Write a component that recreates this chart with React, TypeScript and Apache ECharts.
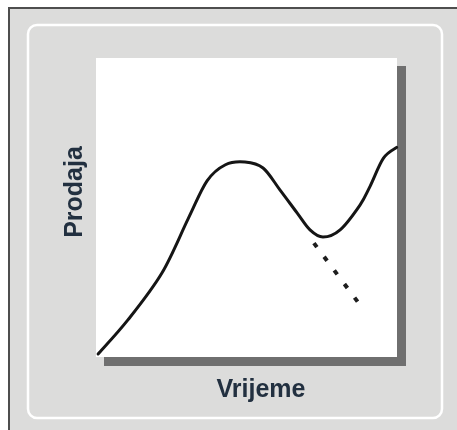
import React, { useEffect, useRef } from "react";
import * as echarts from "echarts";

// Solid sales curve (time, sales), both on 0..100
const salesTime = [0.7, 10.6, 21.9, 30.6, 36.9, 43.0, 49.5, 55.5, 61.1, 66.8, 71.1, 75.4, 81.1, 87.7, 91.0, 95.5, 99.9];
const salesValue = [1.0, 12.4, 28.1, 46.2, 58.9, 64.3, 65.2, 63.2, 55.9, 48.2, 42.5, 40.1, 42.5, 50.8, 57.0, 66.5, 70.1];

// Dashed alternative decline
const declineTime = [72.4, 87.0];
const declineValue = [38.1, 18.4];

const xLabel = "Vrijeme";
const yLabel = "Prodaja";

export default function App() {
  const ref = useRef<HTMLDivElement>(null);
  useEffect(() => {
    if (!ref.current) return;
    const chart = echarts.init(ref.current, undefined, { renderer: "svg" });
    const font = "'Liberation Sans', Arial, sans-serif";
    const salesData = salesTime.map((t, i) => [t, salesValue[i]]);
    chart.setOption({
      animation: false,
      grid: { left: 96, top: 58, width: 301, height: 299, show: false },
      xAxis: { type: "value", min: 0, max: 100, show: false },
      yAxis: { type: "value", min: 0, max: 100, show: false },
      graphic: [
        { type: "rect", z: -10, shape: { x: 9, y: 8, width: 460, height: 440 }, style: { fill: "#dcdcdb", stroke: "#4e4e4e", lineWidth: 2 } },
        { type: "rect", z: -9, shape: { x: 28, y: 25, width: 414, height: 393, r: 9 }, style: { fill: "none", stroke: "#ffffff", lineWidth: 2.5 } },
        { type: "rect", z: -8, shape: { x: 104, y: 66, width: 302, height: 300 }, style: { fill: "#6f6f6f" } },
        { type: "rect", z: -7, shape: { x: 96, y: 58, width: 301, height: 299 }, style: { fill: "#ffffff" } },
        { type: "text", z: 5, x: 261, y: 388, style: { text: xLabel, font: `bold 25px ${font}`, fill: "#223040", textAlign: "center", textVerticalAlign: "middle" } },
        { type: "text", z: 5, x: 73, y: 192, rotation: Math.PI / 2, style: { text: yLabel, font: `bold 25px ${font}`, fill: "#223040", textAlign: "center", textVerticalAlign: "middle" } },
      ],
      series: [
        {
          type: "custom",
          z: 10,
          data: salesData,
          encode: { x: 0, y: 1 },
          renderItem: (params: any, api: any) => {
            if (params.dataIndex !== 0) return null;
            const p = salesData.map((d) => api.coord(d));
            const n = p.length;
            let d = `M${p[0][0]},${p[0][1]}`;
            for (let i = 0; i < n - 1; i++) {
              const p0 = p[Math.max(0, i - 1)];
              const p1 = p[i];
              const p2 = p[i + 1];
              const p3 = p[Math.min(n - 1, i + 2)];
              const c1x = p1[0] + (p2[0] - p0[0]) / 6;
              const c1y = p1[1] + (p2[1] - p0[1]) / 6;
              const c2x = p2[0] - (p3[0] - p1[0]) / 6;
              const c2y = p2[1] - (p3[1] - p1[1]) / 6;
              d += ` C${c1x},${c1y} ${c2x},${c2y} ${p2[0]},${p2[1]}`;
            }
            return {
              type: "path",
              shape: { pathData: d },
              style: { stroke: "#151515", lineWidth: 3, fill: "none", lineCap: "round", lineJoin: "round" },
            };
          },
        },
        {
          type: "line",
          z: 10,
          data: declineTime.map((t, i) => [t, declineValue[i]]),
          showSymbol: false,
          lineStyle: { color: "#1e1e1e", width: 4, type: [5, 12] },
        },
      ],
    });
    return () => chart.dispose();
  }, []);
  return <div ref={ref} style={{ position: "fixed", left: 0, top: 0, width: 457, height: 430 }} />;
}
